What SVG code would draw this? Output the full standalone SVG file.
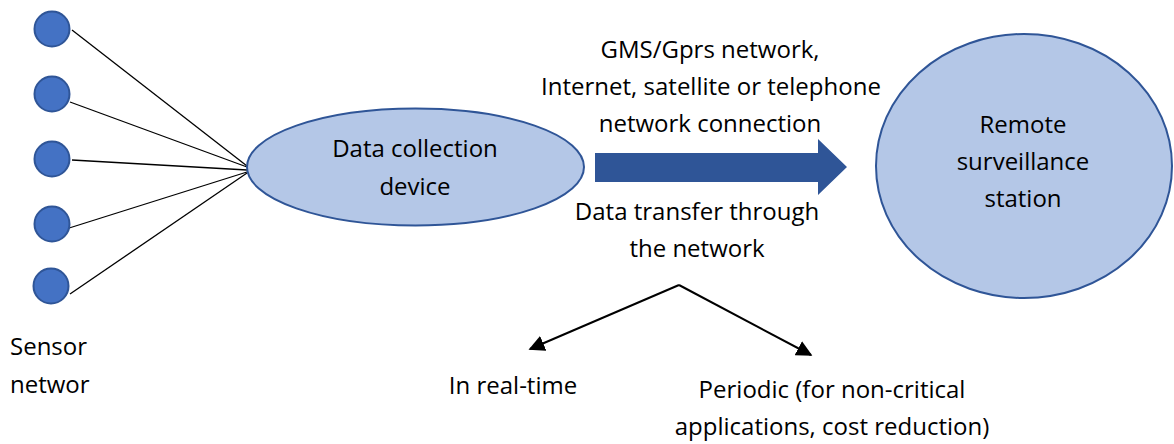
<svg xmlns="http://www.w3.org/2000/svg" width="1174" height="444" viewBox="0 0 1174 444">
<style>
.s{fill:#4472C4;stroke:#2F5597;stroke-width:2}
.e{fill:#B4C7E7;stroke:#2F5597;stroke-width:2}
.t{font-family:"Open Sans","Liberation Sans",sans-serif;font-size:24px;fill:#000}
.m{text-anchor:middle}
.l{stroke:#000;stroke-width:1.3;fill:none}
.a{stroke:#000;stroke-width:2;fill:none}
</style>
<defs>
<marker id="ah2" viewBox="0 0 10 10" refX="9" refY="5" markerWidth="16" markerHeight="16" orient="auto" markerUnits="userSpaceOnUse">
<path d="M0,0 L10,5 L0,10 z" fill="#000"/>
</marker>
</defs>
<g id="connectors">
<line class="l" x1="72" y1="30" x2="247" y2="166"/>
<line class="l" x1="70" y1="102" x2="247" y2="167"/>
<line class="l" x1="72" y1="160" x2="247" y2="170"/>
<line class="l" x1="66" y1="229" x2="247" y2="172"/>
<line class="l" x1="70" y1="294" x2="247" y2="173"/>
<path d="M679,285 L530,349" class="a" marker-end="url(#ah2)"/>
<path d="M679,285 L811,355" class="a" marker-end="url(#ah2)"/>
<path id="bigarrow" d="M595,153 L818,153 L818,139 L847,167 L818,195 L818,182 L595,182 z" fill="#2F5597"/>
</g>
<g id="sensor1"><circle class="s" cx="52" cy="29" r="17.5"/></g>
<g id="sensor2"><circle class="s" cx="52" cy="94" r="17.5"/></g>
<g id="sensor3"><circle class="s" cx="52" cy="159" r="17.5"/></g>
<g id="sensor4"><circle class="s" cx="52" cy="224" r="17.5"/></g>
<g id="sensor5"><circle class="s" cx="51" cy="286" r="17.5"/></g>
<g id="sensor-label"><text class="t" x="10" y="355">Sensor</text><text class="t" x="10" y="393">networ</text></g>
<g id="device"><ellipse class="e" cx="415.5" cy="167" rx="168.5" ry="58.5"/>
<text class="t m" x="415" y="157">Data collection</text><text class="t m" x="415" y="195">device</text></g>
<g id="station"><ellipse class="e" cx="1024" cy="166" rx="148" ry="132"/>
<text class="t m" x="1023" y="133">Remote</text><text class="t m" x="1023" y="170">surveillance</text><text class="t m" x="1023" y="207">station</text></g>
<g id="network-label"><text class="t m" x="710" y="58">GMS/Gprs network,</text><text class="t m" x="711" y="95">Internet, satellite or telephone</text><text class="t m" x="710" y="132">network connection</text></g>
<g id="transfer-label"><text class="t m" x="697" y="220">Data transfer through</text><text class="t m" x="697" y="257">the network</text></g>
<g id="realtime"><text class="t m" x="513" y="394">In real-time</text></g>
<g id="periodic"><text class="t m" x="832" y="398">Periodic (for non-critical</text><text class="t m" x="832" y="435">applications, cost reduction)</text></g>
</svg>
